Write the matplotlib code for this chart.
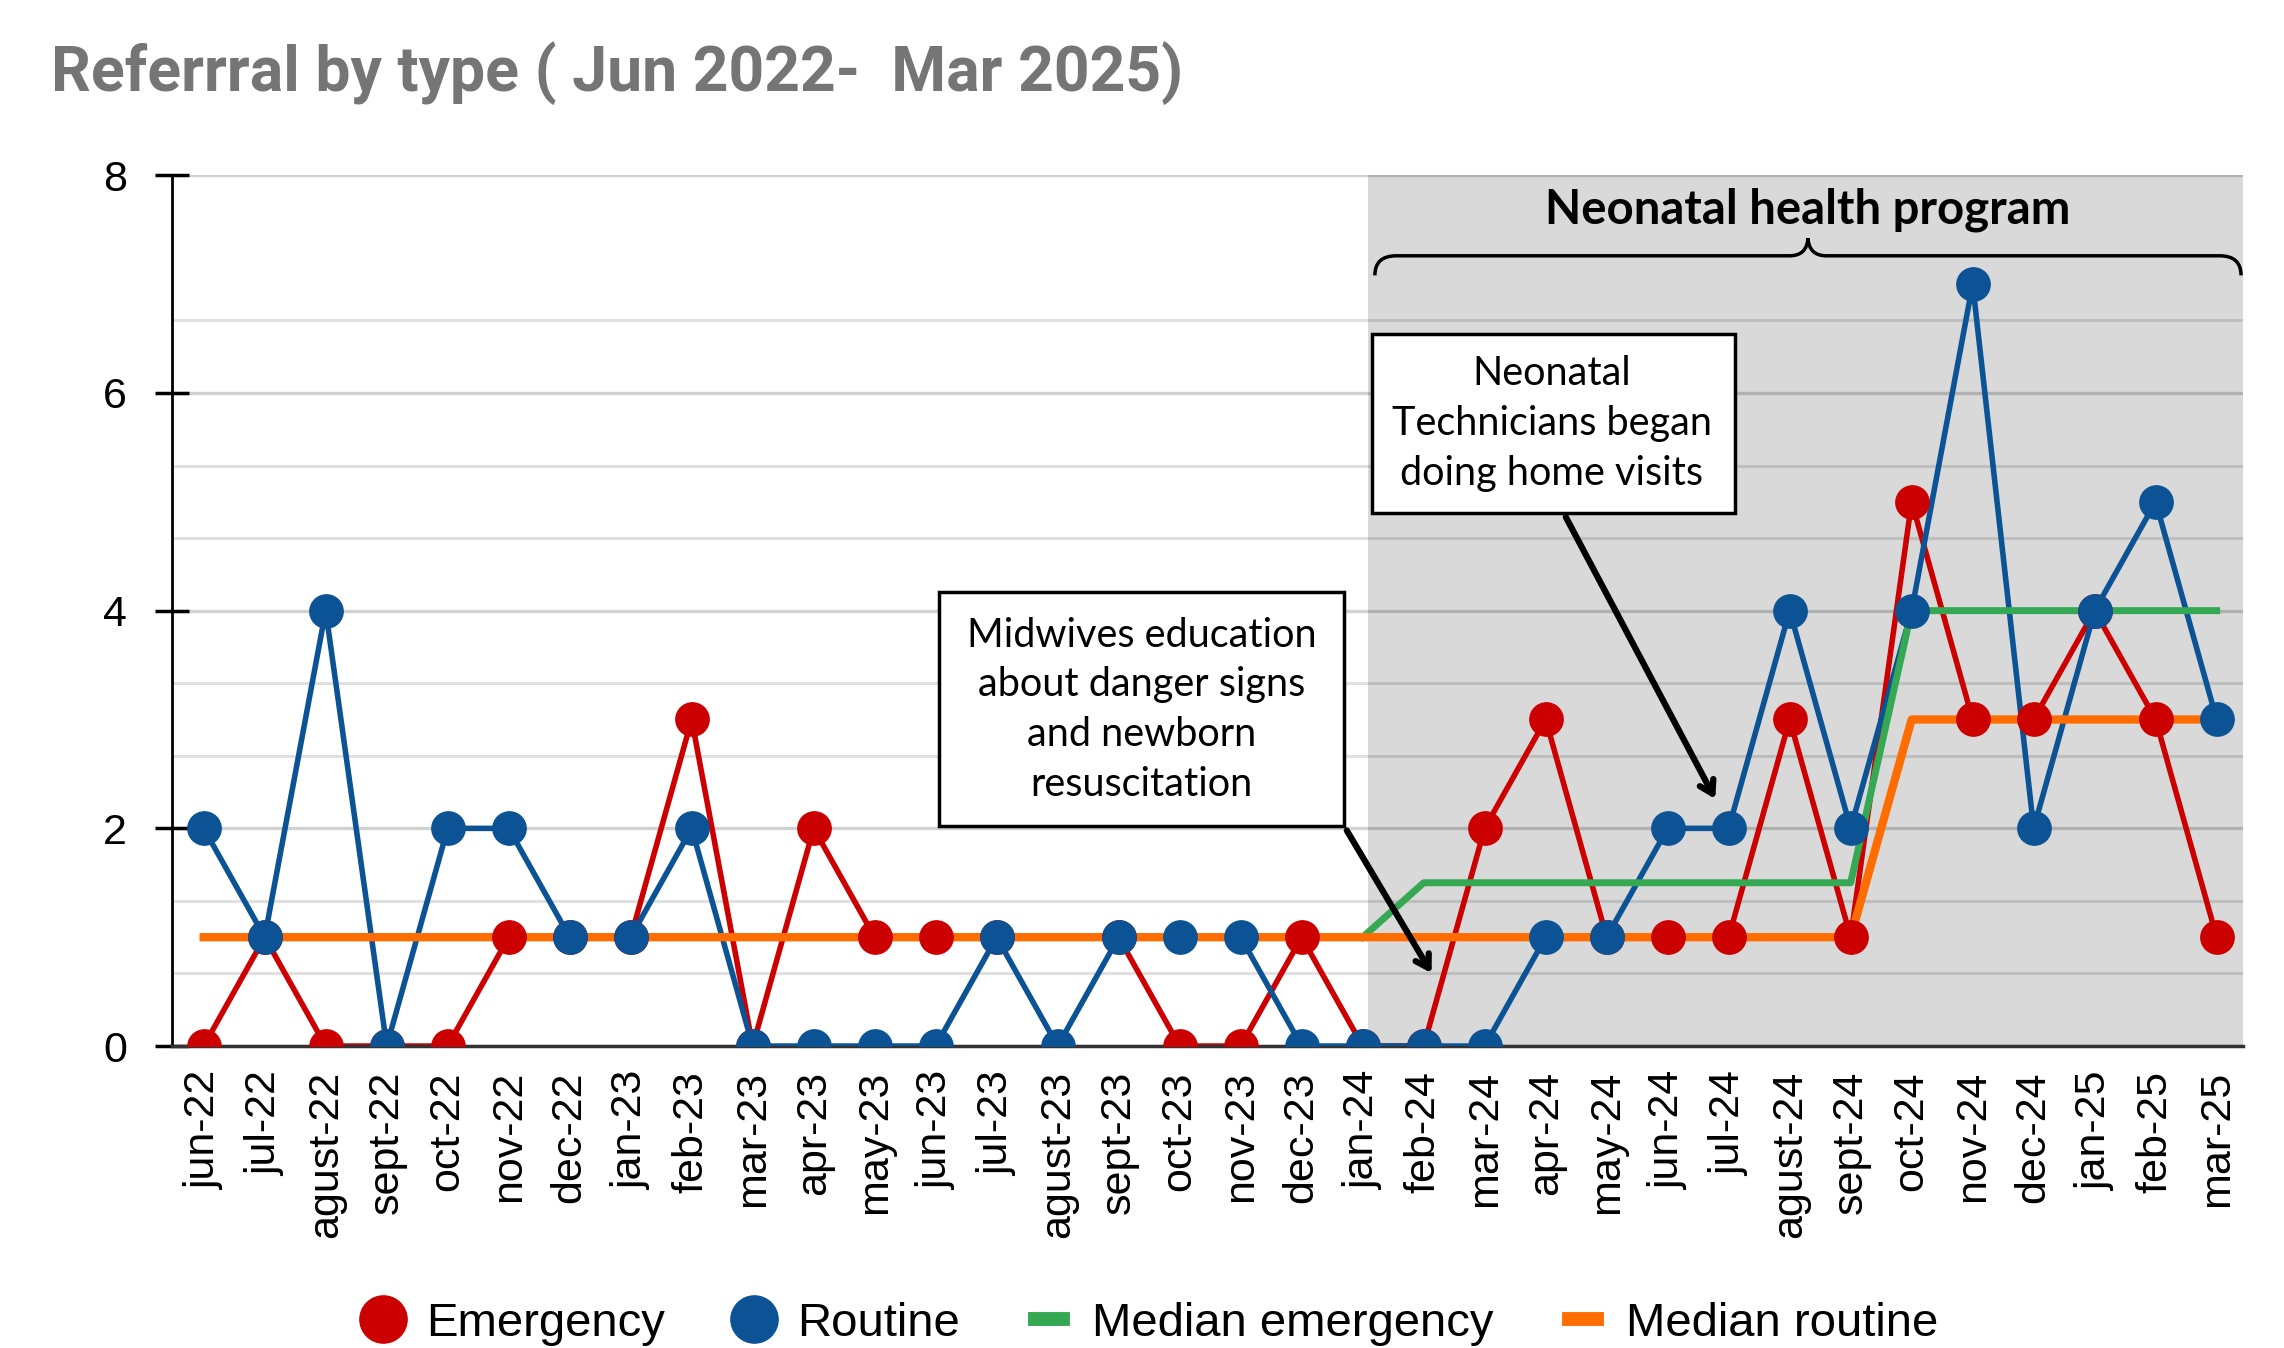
import matplotlib
matplotlib.use("Agg")
import matplotlib.pyplot as plt
import numpy as np
from matplotlib.lines import Line2D
from matplotlib.patches import Rectangle, PathPatch
from matplotlib.path import Path

# month labels, jun-22 .. mar-25
months = ["jun-22", "jul-22", "agust-22", "sept-22", "oct-22", "nov-22", "dec-22",
          "jan-23", "feb-23", "mar-23", "apr-23", "may-23", "jun-23", "jul-23",
          "agust-23", "sept-23", "oct-23", "nov-23", "dec-23", "jan-24", "feb-24",
          "mar-24", "apr-24", "may-24", "jun-24", "jul-24", "agust-24", "sept-24",
          "oct-24", "nov-24", "dec-24", "jan-25", "feb-25", "mar-25"]

emergency = [0, 1, 0, 0, 0, 1, 1, 1, 3, 0, 2, 1, 1, 1, np.nan, 1, 0, 0, 1, 0, 0,
             2, 3, 1, 1, 1, 3, 1, 5, 3, 3, 4, 3, 1]
routine = [2, 1, 4, 0, 2, 2, 1, 1, 2, 0, 0, 0, 0, 1, 0, 1, 1, 1, 0, 0, 0,
           0, 1, 1, 2, 2, 4, 2, 4, 7, 2, 4, 5, 3]
median_emergency = [np.nan] * 19 + [1, 1.5, 1.5, 1.5, 1.5, 1.5, 1.5, 1.5, 1.5,
                                    4, 4, 4, 4, 4, 4]
median_routine = [1] * 28 + [3, 3, 3, 3, 3, 3]

RED = "#cc0000"
BLUE = "#0b5394"
GREEN = "#34a853"
ORANGE = "#ff6d01"

x = np.arange(len(months))

fig = plt.figure(figsize=(22.84, 13.48), dpi=100)
ax = fig.add_axes([0.0753, 0.224, 0.9067, 0.646])

# program period shading
ax.axvspan(19.08, 33.5, ymin=0, ymax=1, color="#d9d9d9", zorder=0.2, lw=0)

# lines first, then medians on top, then markers
ax.plot(x, emergency, color=RED, lw=4, zorder=2)
ax.plot(x, routine, color=BLUE, lw=4, zorder=3)
ax.plot(x, median_emergency, color=GREEN, lw=5, zorder=4)
ax.plot(x, median_routine, color=ORANGE, lw=6, zorder=5)
ax.plot(x, emergency, ls="none", marker="o", ms=24, color=RED, zorder=6)
ax.plot(x, routine, ls="none", marker="o", ms=24, color=BLUE, zorder=7)

ax.set_xlim(-0.52, 33.43)
ax.set_ylim(0, 8)

# grid
ax.set_yticks([0, 2, 4, 6, 8])
ax.set_yticks([2/3, 4/3, 8/3, 10/3, 14/3, 16/3, 20/3], minor=True)
ax.grid(axis="y", which="major", color="black", alpha=0.18, lw=2.4)
ax.grid(axis="y", which="minor", color="black", alpha=0.12, lw=2.2)
ax.set_axisbelow(True)

ax.set_xticks(x)
ax.set_xticklabels(months, rotation=90, fontsize=31, family="Liberation Sans")
ax.tick_params(axis="x", length=0, pad=18)
ax.tick_params(axis="y", which="major", direction="inout", length=25, width=2.5,
               labelsize=31, pad=20)
ax.tick_params(axis="y", which="minor", length=0)
for lab in ax.get_yticklabels():
    lab.set_family("Liberation Sans")

for s in ["top", "right"]:
    ax.spines[s].set_visible(False)
ax.spines["left"].set_linewidth(2)
ax.spines["bottom"].set_linewidth(2.5)
ax.spines["bottom"].set_color("#333333")

# brace over program period
x0, x1 = 19.2, 33.4
xc = (x0 + x1) / 2
yb, yl, yt = 7.08, 7.26, 7.42
verts = [(x0, yb), (x0, yl), (x0 + 0.35, yl),
         (xc - 0.3, yl), (xc - 0.02, yl), (xc, yt),
         (xc + 0.02, yl), (xc + 0.3, yl),
         (x1 - 0.35, yl), (x1, yl), (x1, yb)]
codes = [Path.MOVETO, Path.CURVE3, Path.CURVE3,
         Path.LINETO, Path.CURVE3, Path.CURVE3,
         Path.CURVE3, Path.CURVE3,
         Path.LINETO, Path.CURVE3, Path.CURVE3]
ax.add_patch(PathPatch(Path(verts, codes), fill=False, lw=2.5, ec="black", zorder=8))
ax.text(xc, 7.68, "Neonatal health program", ha="center", va="center",
        fontsize=34, fontweight="bold", family="Lato", zorder=8)

# annotation boxes
ax.add_patch(Rectangle((12.05, 2.02), 6.64, 2.15, fc="white", ec="black", lw=2.5, zorder=8))
ax.text(15.38, 3.09, "Midwives education\nabout danger signs\nand newborn\nresuscitation",
        ha="center", va="center", fontsize=28.5, family="Lato", linespacing=1.42, zorder=9)
ax.add_patch(Rectangle((19.15, 4.9), 5.95, 1.64, fc="white", ec="black", lw=2.5, zorder=8))
ax.text(22.1, 5.72, "Neonatal\nTechnicians began\ndoing home visits",
        ha="center", va="center", fontsize=28.5, family="Lato", linespacing=1.42, zorder=9)

arrow = dict(arrowstyle="->,head_length=0.9,head_width=0.55", lw=4.5, color="black",
             shrinkA=0, shrinkB=0)
ax.annotate("", xy=(20.13, 0.67), xytext=(18.74, 1.98), arrowprops=arrow, zorder=9)
ax.annotate("", xy=(24.78, 2.27), xytext=(22.33, 4.86), arrowprops=arrow, zorder=9)

# title
fig.text(0.0223, 0.946, "Referrral by type ( Jun 2022-  Mar 2025)", ha="left", va="center",
         fontsize=45, fontweight="bold", family="Roboto", color="#757575")

# legend
handles = [
    Line2D([], [], ls="none", marker="o", ms=34, color=RED),
    Line2D([], [], ls="none", marker="o", ms=34, color=BLUE),
    Line2D([], [], lw=10, color=GREEN),
    Line2D([], [], lw=10, color=ORANGE),
]
labels = ["Emergency", "Routine", "Median emergency", "Median routine"]
fig.legend(handles, labels, loc="center", bbox_to_anchor=(0.505, 0.018), ncol=4,
           frameon=False, handlelength=0.6, handletextpad=0.6, columnspacing=1.6,
           prop={"family": "Liberation Sans", "size": 34})

fig.savefig("out.png", dpi=100)
